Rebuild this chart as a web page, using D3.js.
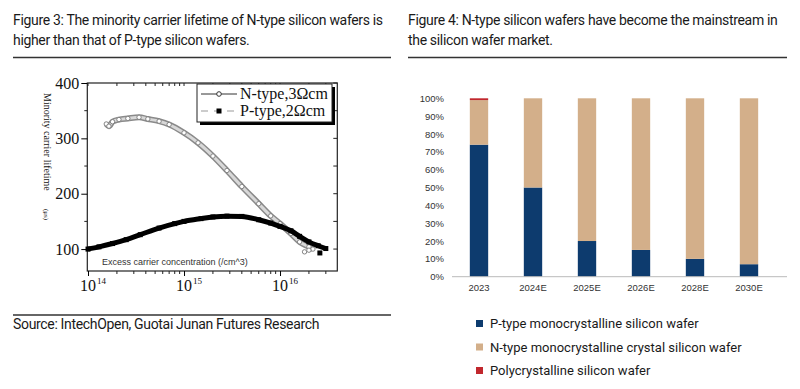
<!DOCTYPE html>
<html>
<head>
<meta charset="utf-8">
<script src="https://cdn.jsdelivr.net/npm/d3@7"></script>
<style>
  body { margin: 0; background: #fff; }
  .title { font-family: Roboto, "Liberation Sans", sans-serif; font-size: 14px; fill: #1a1a1a; letter-spacing: -0.33px; }
  .serif { font-family: "Liberation Serif", "DejaVu Serif", serif; fill: #111; }
  .sans9 { font-family: "Liberation Sans", Arial, sans-serif; font-size: 9.5px; fill: #333; }
</style>
</head>
<body>
<script>
// left chart: minority carrier lifetime
var nConc = [1.55e14, 1.65e14, 1.8e14, 2.1e14, 2.6e14, 3.4e14, 4.2e14, 5.5e14, 7e14, 1e15, 1.4e15, 2e15, 2.8e15, 4e15, 6e15, 8e15, 1e16, 1.3e16, 1.6e16, 2e16, 2.2e16];
var nLife = [326, 322, 330, 334, 336, 338, 335, 331, 325, 310, 292, 268, 242, 213, 182, 160, 146, 128, 113, 104, 100];
var nOutConc = [1.8e16, 2.0e16];
var nOutLife = [95, 98];
var pConc = [1e14, 1.3e14, 1.8e14, 2.5e14, 3.5e14, 5.5e14, 8e14, 1e15, 1.5e15, 2e15, 2.8e15, 4e15, 6e15, 8e15, 1e16, 1.3e16, 1.6e16, 2e16, 2.5e16, 3e16];
var pLife = [100, 104, 110, 117, 126, 138, 146, 150, 155, 158, 159.5, 159, 153, 147, 141, 133, 123, 113, 106, 101];
var pOutConc = [2.6e16];
var pOutLife = [93];
var lifeTicks = [100, 200, 300, 400];
var lifeMinor = [150, 250, 350];
var concTicks = [1e14, 1e15, 1e16];
var concExp = ["14", "15", "16"];

// right chart: market share
var years = ["2023", "2024E", "2025E", "2026E", "2028E", "2030E"];
var pShare = [0.74, 0.50, 0.20, 0.15, 0.10, 0.07];
var nShare = [0.25, 0.50, 0.80, 0.85, 0.90, 0.93];
var polyShare = [0.01, 0, 0, 0, 0, 0];
var shareTicks = [0, 0.1, 0.2, 0.3, 0.4, 0.5, 0.6, 0.7, 0.8, 0.9, 1];
var seriesNames = ["P-type monocrystalline silicon wafer", "N-type monocrystalline crystal silicon wafer", "Polycrystalline silicon wafer"];
var seriesColors = ["#0d3b6e", "#d3af8a", "#c1272d"];

var svg = d3.select("body").append("svg")
    .attr("width", 800)
    .attr("height", 389);

svg.append("rect").attr("width", 800).attr("height", 389).attr("fill", "#fff");

// ---- headings and rules
var heads = [
  {x: 13, lines: ["Figure 3: The minority carrier lifetime of N-type silicon wafers is", "higher than that of P-type silicon wafers."]},
  {x: 408, lines: ["Figure 4: N-type silicon wafers have become the mainstream in", "the silicon wafer market."]}
];
heads.forEach(function(h) {
  h.lines.forEach(function(t, i) {
    svg.append("text").attr("class", "title")
        .attr("x", h.x).attr("y", 25 + i * 20)
        .text(t);
  });
});
svg.append("line").attr("x1", 13).attr("x2", 391).attr("y1", 57.5).attr("y2", 57.5)
    .attr("stroke", "#333").attr("stroke-width", 1.5);
svg.append("line").attr("x1", 408).attr("x2", 787).attr("y1", 57.5).attr("y2", 57.5)
    .attr("stroke", "#333").attr("stroke-width", 1.5);
svg.append("line").attr("x1", 13).attr("x2", 391).attr("y1", 315).attr("y2", 315)
    .attr("stroke", "#333").attr("stroke-width", 1.5);
svg.append("text").attr("class", "title")
    .attr("x", 13).attr("y", 329)
    .text("Source: IntechOpen, Guotai Junan Futures Research");

// ---- left chart
var x = d3.scaleLog().domain([0.983e14, 3.95e16]).range([87.3, 337.3]);
var y = d3.scaleLinear().domain([60.4, 400]).range([271, 83]);

var left = svg.append("g");
left.append("rect")
    .attr("x", x.range()[0]).attr("y", y.range()[1])
    .attr("width", x.range()[1] - x.range()[0])
    .attr("height", y.range()[0] - y.range()[1])
    .attr("fill", "none").attr("stroke", "#222").attr("stroke-width", 1.2);

// y axis
var yAxis = left.append("g")
    .attr("transform", "translate(" + x.range()[0] + ",0)")
    .call(d3.axisLeft(y).tickValues(lifeTicks).tickSize(6).tickPadding(2));
yAxis.select(".domain").remove();
yAxis.selectAll("text").attr("class", "serif").style("font-size", "16px").attr("fill", "#111");
left.selectAll(".yminor").data(lifeMinor).enter().append("line")
    .attr("x1", x.range()[0] - 3).attr("x2", x.range()[0])
    .attr("y1", function(d) { return y(d); }).attr("y2", function(d) { return y(d); })
    .attr("stroke", "#222");
left.selectAll(".yright").data(lifeTicks.concat(lifeMinor)).enter().append("line")
    .attr("x1", x.range()[1] - 4).attr("x2", x.range()[1])
    .attr("y1", function(d) { return y(d); }).attr("y2", function(d) { return y(d); })
    .attr("stroke", "#222");

// x axis
var xAxis = left.append("g")
    .attr("transform", "translate(0," + y.range()[0] + ")")
    .call(d3.axisBottom(x).tickValues(concTicks).tickSize(5).tickFormat(""));
xAxis.select(".domain").remove();
var minor = x.ticks().filter(function(d) { return concTicks.indexOf(d) < 0; });
left.selectAll(".xminor").data(minor).enter().append("line")
    .attr("x1", function(d) { return x(d); }).attr("x2", function(d) { return x(d); })
    .attr("y1", y.range()[0]).attr("y2", y.range()[0] + 3)
    .attr("stroke", "#222");
left.selectAll(".xtop").data(minor.concat(concTicks)).enter().append("line")
    .attr("x1", function(d) { return x(d); }).attr("x2", function(d) { return x(d); })
    .attr("y1", y.range()[1]).attr("y2", y.range()[1] + 3)
    .attr("stroke", "#222");
concTicks.forEach(function(d, i) {
  var t = left.append("text").attr("class", "serif")
      .attr("x", x(d) - 8).attr("y", 291)
      .style("font-size", "16px");
  t.append("tspan").text("10");
  t.append("tspan").attr("dy", -7).attr("dx", 1).style("font-size", "9px").text(concExp[i]);
});

// axis titles
left.append("text")
    .attr("transform", "translate(44,93) rotate(90)")
    .attr("class", "serif").style("font-size", "10px").attr("fill", "#333")
    .text("Minority carrier lifetime");
left.append("text")
    .attr("transform", "translate(44,209) rotate(90)")
    .attr("class", "serif").style("font-size", "7px").attr("fill", "#333")
    .text("(\u03bcs)");
left.append("text")
    .attr("x", 102).attr("y", 265)
    .attr("class", "sans9").style("font-size", "9px").attr("fill", "#444")
    .text("Excess carrier concentration (/cm^3)");

var line = d3.line().curve(d3.curveMonotoneX)
    .x(function(d) { return x(d[0]); })
    .y(function(d) { return y(d[1]); });
var nData = d3.zip(nConc, nLife);
var pData = d3.zip(pConc, pLife);

// N-type band (open circles)
left.append("path").datum(nData).attr("d", line)
    .attr("fill", "none").attr("stroke", "#8a8a8a").attr("stroke-width", 6);
left.append("path").datum(nData).attr("d", line)
    .attr("fill", "none").attr("stroke", "#d8d8d8").attr("stroke-width", 3);
left.selectAll(".ncirc").data(nData.concat(d3.zip(nOutConc, nOutLife))).enter().append("circle")
    .attr("cx", function(d) { return x(d[0]); })
    .attr("cy", function(d) { return y(d[1]); })
    .attr("r", 2.2)
    .attr("fill", "#fff").attr("stroke", "#777").attr("stroke-width", 0.9);

// P-type band (filled squares)
left.append("path").datum(pData).attr("d", line)
    .attr("fill", "none").attr("stroke", "#000").attr("stroke-width", 5);
left.selectAll(".psq").data(pData.concat(d3.zip(pOutConc, pOutLife))).enter().append("rect")
    .attr("x", function(d) { return x(d[0]) - 2.5; })
    .attr("y", function(d) { return y(d[1]) - 2.5; })
    .attr("width", 5).attr("height", 5)
    .attr("fill", "#000");

// legend
var lg = left.append("g").attr("transform", "translate(197,84)");
lg.append("rect").attr("x", 3).attr("y", 3).attr("width", 135).attr("height", 38).attr("fill", "#000");
lg.append("rect").attr("width", 135).attr("height", 38).attr("fill", "#fff").attr("stroke", "#222");
lg.append("line").attr("x1", 4).attr("x2", 40).attr("y1", 10).attr("y2", 10).attr("stroke", "#333");
lg.append("circle").attr("cx", 22).attr("cy", 10).attr("r", 2.3).attr("fill", "#fff").attr("stroke", "#333");
lg.append("line").attr("x1", 4).attr("x2", 40).attr("y1", 27).attr("y2", 27)
    .attr("stroke", "#999").attr("stroke-dasharray", "7,6");
lg.append("rect").attr("x", 19.5).attr("y", 24.5).attr("width", 5).attr("height", 5).attr("fill", "#000");
lg.append("text").attr("class", "serif").attr("x", 43).attr("y", 15).style("font-size", "16px").text("N-type,3\u03a9cm");
lg.append("text").attr("class", "serif").attr("x", 43).attr("y", 32).style("font-size", "16px").text("P-type,2\u03a9cm");

// ---- right chart
var xb = d3.scaleBand().domain(years).range([452, 776]).paddingInner(0.66).paddingOuter(0.33);
var yb = d3.scaleLinear().domain([0, 1]).range([276.7, 98.3]);

var right = svg.append("g");
var ya = right.append("g")
    .attr("transform", "translate(447,0)")
    .call(d3.axisLeft(yb).tickValues(shareTicks).tickSize(0).tickPadding(3).tickFormat(d3.format(".0%")));
ya.select(".domain").remove();
ya.selectAll("text").attr("class", "sans9").attr("fill", "#333");

var stacked = years.map(function(yr, i) {
  return {year: yr, vals: [pShare[i], nShare[i], polyShare[i]]};
});
stacked.forEach(function(d) {
  var base = 0;
  d.vals.forEach(function(v, k) {
    if (v > 0) {
      right.append("rect")
          .attr("x", xb(d.year))
          .attr("width", xb.bandwidth())
          .attr("y", yb(base + v))
          .attr("height", yb(base) - yb(base + v))
          .attr("fill", seriesColors[k]);
    }
    base += v;
  });
});

var xa = right.append("g")
    .attr("transform", "translate(0," + yb(0) + ")")
    .call(d3.axisBottom(xb).tickSize(0).tickPadding(8));
xa.select(".domain").remove();
xa.selectAll("text").attr("class", "sans9").attr("fill", "#333");
right.append("line").attr("x1", 452).attr("x2", 787).attr("y1", yb(0)).attr("y2", yb(0))
    .attr("stroke", "#bbb");

// legend
var rl = right.selectAll(".rleg").data(seriesNames).enter().append("g")
    .attr("transform", function(d, i) { return "translate(476," + (323.5 + i * 23.5) + ")"; });
rl.append("rect").attr("x", 0).attr("y", -3.5).attr("width", 7).attr("height", 7)
    .attr("fill", function(d, i) { return seriesColors[i]; });
rl.append("text").attr("x", 14).attr("y", 4.5)
    .attr("class", "title").style("font-size", "13px").style("letter-spacing", "0px")
    .text(function(d) { return d; });
</script>
</body>
</html>
